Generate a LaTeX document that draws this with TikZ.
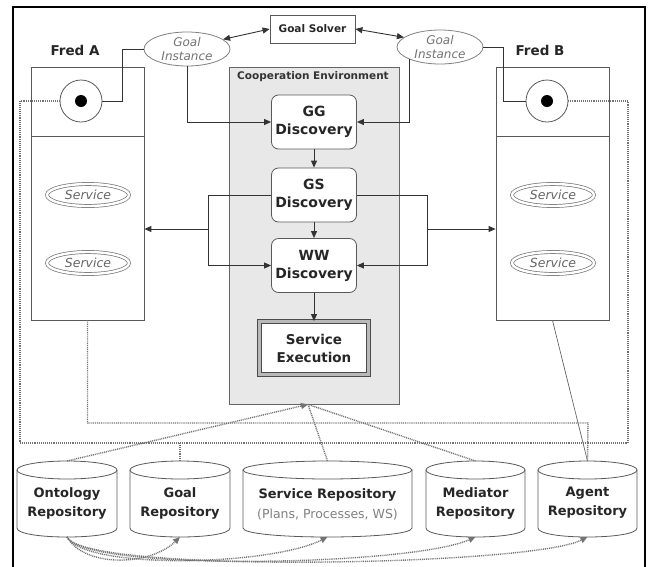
\documentclass[tikz,border=0pt]{standalone}
\usepackage{fontspec}
\setmainfont{DejaVu Sans}
\usetikzlibrary{arrows.meta,shapes.geometric,calc}
\tikzset{
  boxline/.style={draw=black!65, line width=0.8pt},
  disc/.style={boxline, fill=white, rounded corners=7pt, minimum width=85pt, minimum height=54pt, inner sep=0pt, align=center, font=\fontsize{14}{18}\selectfont\bfseries, text=black!85},
  conn/.style={draw=black!80, line width=0.9pt},
  tip/.style={-{Triangle[length=7pt,width=6pt]}},
  arr/.style={conn, tip},
  dblarr/.style={conn, {Triangle[length=7pt,width=6pt]}-{Triangle[length=7pt,width=6pt]}},
  dots/.style={draw=black!55, line width=1.4pt, dash pattern=on 1pt off 0.9pt},
  svc/.style={ellipse, draw=black!55, double=white, double distance=2.4pt, line width=0.7pt, minimum width=82pt, minimum height=22pt, inner sep=0pt, text=black!60, font=\fontsize{12.5}{13}\selectfont\itshape},
  ginst/.style={ellipse, draw=black!50, line width=0.8pt, fill=white, minimum width=86pt, minimum height=34pt, inner sep=-1pt, align=center, text=black!55, font=\fontsize{12}{13.5}\selectfont\itshape},
  cylbox/.style={draw=none, minimum height=76pt, inner sep=0pt, outer sep=0pt},
  cyltext/.style={align=center, font=\fontsize{13}{19}\selectfont\bfseries, text=black!85},
  cylline/.style={draw=black!65, line width=0.8pt},
  fredlbl/.style={font=\fontsize{13.5}{15}\selectfont\bfseries, text=black!85}
}
\newcommand\cylshape[2]{%
  \draw[cylline] ([yshift=-9pt]#1.north west) -- ([yshift=9pt]#1.south west)
     .. controls +(0,-12pt) and +(0,-12pt) .. ([yshift=9pt]#1.south east)
     -- ([yshift=-9pt]#1.north east);
  \draw[cylline] ([yshift=-9pt]#1.north) ellipse [x radius=#2pt, y radius=9pt];}
\begin{document}
\begin{tikzpicture}[x=1pt,y=-1pt]
\useasboundingbox (0,0) rectangle (649,566);
% outer frame
\draw[line width=2.6pt] (13,575) -- (13,7) -- (645,7) -- (645,575);

% cooperation environment
\node[draw=black!60, line width=0.8pt, fill=gray!18, minimum width=170pt, minimum height=337pt] (coop) at (314,235.5) {};
\node[font=\fontsize{10.5}{12}\selectfont\bfseries, text=black!80] (coopl) at (313,77) {Cooperation Environment};

% goal solver and instances
\node[boxline, minimum width=85pt, minimum height=28pt, font=\fontsize{10.5}{12}\selectfont\bfseries, text=black!85] (gsol) at (312.5,29) {Goal Solver};
\node[ginst] (gia) at (187,49) {Goal\\Instance};
\node[ginst] (gib) at (440,47) {Goal\\Instance};

% Fred A / Fred B
\node[fredlbl] (fal) at (75,50) {Fred A};
\node[fredlbl] (fbl) at (540,50) {Fred B};
\node[boxline, minimum width=113pt, minimum height=253pt] (fa) at (87.5,193.5) {};
\node[boxline, minimum width=113pt, minimum height=253pt] (fb) at (552.5,193.5) {};
\draw[boxline] ([yshift=-70pt]fa.north west) -- ([yshift=-70pt]fa.north east);
\draw[boxline] ([yshift=-70pt]fb.north west) -- ([yshift=-70pt]fb.north east);
\node[circle, boxline, minimum size=42pt, inner sep=0pt, fill=white] (ca) at (81,101) {};
\node[circle, fill=black, minimum size=12pt, inner sep=0pt] (cad) at (ca.center) {};
\node[circle, boxline, minimum size=42pt, inner sep=0pt, fill=white] (cb) at (547,101) {};
\node[circle, fill=black, minimum size=12pt, inner sep=0pt] (cbd) at (cb.center) {};
\node[svc] (sa1) at (88,195) {Service};
\node[svc] (sa2) at (88,263) {Service};
\node[svc] (sb1) at (553,195) {Service};
\node[svc] (sb2) at (553,263) {Service};

% discovery chain
\node[disc] (gg) at (314,122) {GG\\Discovery};
\node[disc] (gsd) at (314,195) {GS\\Discovery};
\node[disc] (wwd) at (314,265.5) {WW\\Discovery};
\node[draw=black!70, double=gray!55, double distance=3pt, line width=0.8pt, fill=white, minimum width=109pt, minimum height=53pt, inner sep=0pt, align=center, font=\fontsize{13.5}{18}\selectfont\bfseries, text=black!85] (sex) at (314,348) {Service\\Execution};

% repositories
\node[cylbox, minimum width=100pt] (onto) at (67,499) {};
\node[cylbox, minimum width=100pt] (goal) at (180,499) {};
\node[cylbox, minimum width=169pt] (srep) at (327.5,499) {};
\node[cylbox, minimum width=99pt] (med) at (475.5,499) {};
\node[cylbox, minimum width=99pt] (agent) at (587.5,499) {};
\cylshape{onto}{50}
\cylshape{goal}{50}
\cylshape{srep}{84.5}
\cylshape{med}{49.5}
\cylshape{agent}{49.5}
\node[cyltext] (ontot) at (67,503) {Ontology\\Repository};
\node[cyltext] (goalt) at (180,503) {Goal\\Repository};
\node[cyltext] (srept) at (327.5,495) {Service Repository};
\node[font=\fontsize{12.5}{14}\selectfont, text=black!50] (srepsub) at (327.5,515) {(Plans, Processes, WS)};
\node[cyltext] (medt) at (475.5,503) {Mediator\\Repository};
\node[cyltext] (agentt) at (587.5,503) {Agent\\Repository};

% solid connectors
\draw[dblarr] (gia.15) -- (gsol.west);
\draw[dblarr] (gsol.east) -- (gib.165);
\draw[arr] (gia.south) |- (gg.west);
\draw[arr] (gib.south west) |- (gg.east);
\draw[conn] (gia.west) -- ++(-21pt,0) |- (ca.east);
\draw[conn] (gib.east) -- ++(20pt,0) |- (cb.west);
\draw[arr] (gg) -- (gsd);
\draw[arr] (gsd) -- (wwd);
\draw[arr] (wwd) -- (sex);
\coordinate (bl) at (208,229);
\coordinate (br) at (427,229);
\draw[conn] (gsd.west) -| (bl);
\draw[arr] (bl) -- (bl -| fa.east);
\draw[arr] (bl) |- (wwd.west);
\draw[conn] (gsd.east) -| (br);
\draw[arr] (br) -- (br -| fb.west);
\draw[arr] (br) |- (wwd.east);
\draw[draw=black!60, line width=0.7pt] (fb.south) -- (agent.north);

% dotted connectors
\coordinate (lpL) at (20,443);
\coordinate (lpR) at (628,443);
\coordinate (lp2) at (588,423);
\draw[dots] (ca.west) -| (lpL) -- (lpR) |- (cb.east);
\draw[dots] (goal.north |- lpL) -- (goal.north);
\draw[dots] (fa.south) |- (lp2) -- (agent.north);
\coordinate (cein) at ($(coop.south)+(-6pt,0)$);
\draw[dots, tip] (onto.north) -- (cein);
\draw[dots] (srep.north) -- (cein);
\draw[dots] (med.north) -- (cein);
\draw[dots, tip] (onto.south) .. controls (85,568) and (150,566) .. (goal.south);
\draw[dots, tip] (onto.south) .. controls (85,570) and (270,566) .. (srep.south);
\draw[dots, tip] (onto.south) .. controls (85,572) and (410,566) .. (med.south);
\draw[dots, tip] (onto.south) .. controls (85,574) and (530,566) .. (agent.south);
\end{tikzpicture}
\end{document}
